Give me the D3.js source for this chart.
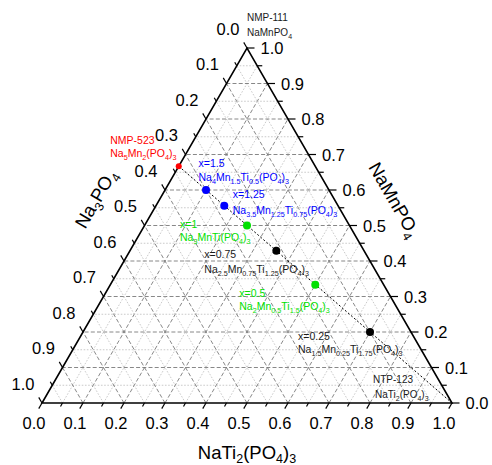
<!DOCTYPE html>
<html>
<head>
<meta charset="utf-8">
<script src="https://cdn.jsdelivr.net/npm/d3@7"></script>
<style>
  html, body { margin: 0; padding: 0; background: #fff; }
  svg { display: block; font-family: "Liberation Sans", Arial, Helvetica, sans-serif; }
</style>
</head>
<body>
<svg id="chart" width="492" height="465"></svg>
<script>
// ---------------- DATA ----------------
// Ternary components: Na3PO4 (bottom-left), NaTi2(PO4)3 (bottom-right), NaMnPO4 (top)
const axisTitles = ["Na_{3}PO_{4}", "NaTi_{2}(PO_{4})_{3}", "NaMnPO_{4}"];
const tickLabels = ["0.0","0.1","0.2","0.3","0.4","0.5","0.6","0.7","0.8","0.9","1.0"];
const tickValues = [0,0.1,0.2,0.3,0.4,0.5,0.6,0.7,0.8,0.9,1.0];

// Composition points Na(1+2x)Mn(x)Ti(2-x)(PO4)3
const xValues   = [2, 1.5, 1.25, 1, 0.75, 0.5, 0.25];
const fracNa3PO4 = [0.333, 0.300, 0.278, 0.250, 0.214, 0.167, 0.100];
const fracNaTi2  = [0.000, 0.100, 0.167, 0.250, 0.357, 0.500, 0.700];
const fracNaMnPO4 = [0.667, 0.600, 0.556, 0.500, 0.429, 0.333, 0.200];
const labelLine1 = ["NMP-523", "x=1.5", "x=1.25", "x=1", "x=0.75", "x=0.5", "x=0.25"];
const labelLine2 = ["Na_{5}Mn_{2}(PO_{4})_{3}", "Na_{4}Mn_{1.5}Ti_{0.5}(PO_{4})_{3}",
  "Na_{3.5}Mn_{1.25}Ti_{0.75}(PO_{4})_{3}", "Na_{3}MnTi(PO_{4})_{3}",
  "Na_{2.5}Mn_{0.75}Ti_{1.25}(PO_{4})_{3}", "Na_{2}Mn_{0.5}Ti_{1.5}(PO_{4})_{3}",
  "Na_{1.5}Mn_{0.25}Ti_{1.75}(PO_{4})_{3}"];

// Tie line from Na5Mn2(PO4)3 to NaTi2(PO4)3
const lineNa3PO4 = [0.333, 0];
const lineNaTi2  = [0, 1];
const lineNaMnPO4 = [0.667, 0];

// End-member annotations
const endLabels = [["NMP-111", "NaMnPO_{4}"], ["NTP-123", "NaTi_{2}(PO_{4})_{3}"]];

// ---------------- STYLE / LAYOUT ----------------
const pointColors = ["#ff0000", "#0000ff", "#0000ff", "#00e000", "#000000", "#00e000", "#000000"];
const pointRadius = [3, 4, 4, 4, 4, 4, 4];
const labelOffsets = [[-68.5,-22],[-7.5,-23],[8.5,-7.5],[-67,2.5],[-72,7],[-76,12],[-72,8]];
const lineGap = [13, 14, 16, 13, 15, 13, 13];
const subShifts = [2.5, 3, 3, 3, 3, 3, 3];

const svg = d3.select("#chart");
const plotLeft = 42, plotRight = 452, plotBottom = 403, plotTop = 48;
const xs = d3.scaleLinear().domain([0, 1]).range([plotLeft, plotRight]);
const ys = d3.scaleLinear().domain([0, 1]).range([plotBottom, plotTop]);
// a: Na3PO4, b: NaTi2(PO4)3, c: NaMnPO4
function P(a, b, c) { const s = a + b + c; b /= s; c /= s; return [xs(b + c / 2), ys(c)]; }

function rich(textSel, str, size, subSize, subShift) {
  const parts = str.split(/(_\{[^}]*\})/).filter(p => p.length);
  let cur = 0;
  parts.forEach(p => {
    const isSub = p.startsWith("_{");
    const target = isSub ? subShift : 0;
    textSel.append("tspan")
      .attr("font-size", isSub ? subSize : size)
      .attr("dy", target - cur)
      .text(isSub ? p.slice(2, -1) : p);
    cur = target;
  });
}

// ---------------- GRID ----------------
const grid = svg.append("g");
const gridVals = d3.range(1, 20).map(i => i / 20);
gridVals.forEach(v => {
  const major = Math.abs(v * 10 - Math.round(v * 10)) < 1e-6;
  const st = major ? {stroke: "#7a7a7a", dash: "4,2.2", w: 0.9} : {stroke: "#bdbdbd", dash: "1.6,1.6", w: 0.8};
  const segs = [
    [P(0, 1 - v, v), P(1 - v, 0, v)],       // constant NaMnPO4 (horizontal)
    [P(v, 1 - v, 0), P(v, 0, 1 - v)],       // constant Na3PO4
    [P(1 - v, v, 0), P(0, v, 1 - v)]        // constant NaTi2(PO4)3
  ];
  segs.forEach(s => {
    grid.append("line")
      .attr("x1", s[0][0]).attr("y1", s[0][1]).attr("x2", s[1][0]).attr("y2", s[1][1])
      .attr("stroke", st.stroke).attr("stroke-width", st.w).attr("stroke-dasharray", st.dash);
  });
});

// ---------------- FRAME ----------------
const BL = P(1, 0, 0), BR = P(0, 1, 0), TP = P(0, 0, 1);
svg.append("path")
  .attr("d", `M${BL[0]},${BL[1]}L${BR[0]},${BR[1]}L${TP[0]},${TP[1]}Z`)
  .attr("fill", "none").attr("stroke", "#000").attr("stroke-width", 1.6).attr("stroke-linejoin", "miter");

// ---------------- TICKS ----------------
const ticks = svg.append("g").attr("stroke", "#000").attr("stroke-width", 1.2);
const allTicks = d3.range(0, 21).map(i => i / 20);
const c60 = 0.5, s60 = Math.sqrt(3) / 2;
allTicks.forEach((v, i) => {
  const len = i % 2 === 0 ? 6.5 : 4;
  // bottom axis (NaTi2): direction down-left
  let p = P(1 - v, v, 0);
  ticks.append("line").attr("x1", p[0]).attr("y1", p[1]).attr("x2", p[0] - c60 * len).attr("y2", p[1] + s60 * len);
  // right axis (NaMnPO4): horizontal right
  p = P(0, 1 - v, v);
  ticks.append("line").attr("x1", p[0]).attr("y1", p[1]).attr("x2", p[0] + len + 1).attr("y2", p[1]);
  // left axis (Na3PO4): up-left
  p = P(v, 0, 1 - v);
  ticks.append("line").attr("x1", p[0]).attr("y1", p[1]).attr("x2", p[0] - c60 * len).attr("y2", p[1] - s60 * len);
});

// ---------------- TICK LABELS ----------------
const tl = svg.append("g").attr("font-size", 16.5).attr("fill", "#000").attr("text-anchor", "middle");
tickValues.forEach((v, i) => {
  let p = P(1 - v, v, 0);
  tl.append("text").attr("x", p[0] - 8).attr("y", p[1] + 26).text(tickLabels[i]);
  p = P(0, 1 - v, v);
  tl.append("text").attr("x", p[0] + 25).attr("y", p[1] + 6).text(tickLabels[i]);
  p = P(v, 0, 1 - v);
  tl.append("text").attr("x", p[0] - 19).attr("y", p[1] - 13.5).text(tickLabels[i]);
});

// ---------------- AXIS TITLES ----------------
function title(str, x, y, rot, shift) {
  const t = svg.append("text")
    .attr("transform", `translate(${x},${y}) rotate(${rot})`)
    .attr("text-anchor", "middle").attr("fill", "#000").attr("y", 6);
  rich(t, str, 18.5, 12.5, shift);
}
title(axisTitles[1], 247, 453, 0, 4);
title(axisTitles[0], 96, 199, -60, 5);
title(axisTitles[2], 394, 200, 60, 5);

// ---------------- TIE LINE ----------------
const lp0 = P(lineNa3PO4[0], lineNaTi2[0], lineNaMnPO4[0]);
const lp1 = P(lineNa3PO4[1], lineNaTi2[1], lineNaMnPO4[1]);
svg.append("line")
  .attr("x1", lp0[0]).attr("y1", lp0[1]).attr("x2", lp1[0]).attr("y2", lp1[1])
  .attr("stroke", "#000").attr("stroke-width", 1).attr("stroke-dasharray", "2,2");

// ---------------- POINTS ----------------
xValues.forEach((x, i) => {
  const p = P(fracNa3PO4[i], fracNaTi2[i], fracNaMnPO4[i]);
  svg.append("circle").attr("cx", p[0]).attr("cy", p[1]).attr("r", pointRadius[i]).attr("fill", pointColors[i]);
  const col = pointColors[i] === "#000000" ? "#1a1a1a" : pointColors[i];
  const lx = p[0] + labelOffsets[i][0], ly = p[1] + labelOffsets[i][1];
  svg.append("text").attr("x", lx).attr("y", ly).attr("font-size", 10.5).attr("fill", col).text(labelLine1[i]);
  const t2 = svg.append("text").attr("x", lx).attr("y", ly + lineGap[i]).attr("fill", col);
  rich(t2, labelLine2[i], 10.5, 7.2, subShifts[i]);
});

// ---------------- END-MEMBER LABELS ----------------
[[TP, [0, -27]], [BR, [-79, -20]]].forEach((d, k) => {
  const lx = d[0][0] + d[1][0], ly = d[0][1] + d[1][1];
  svg.append("text").attr("x", lx).attr("y", ly).attr("font-size", 10).attr("fill", "#1a1a1a").text(endLabels[k][0]);
  const t = svg.append("text").attr("x", lx + (k === 1 ? 2 : 0)).attr("y", ly + 15).attr("fill", "#1a1a1a");
  rich(t, endLabels[k][1], 10, 7, 3);
});
</script>
</body>
</html>
